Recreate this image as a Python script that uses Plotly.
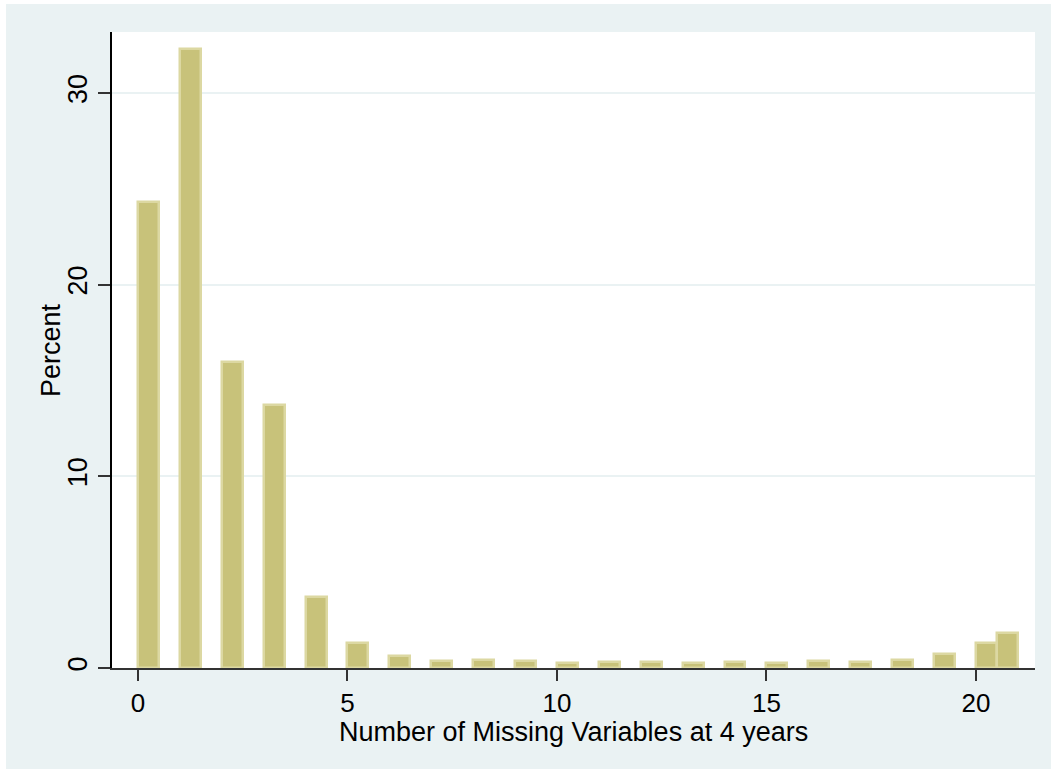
import math
import plotly.graph_objects as go

# Number of missing variables (integer values 0..21) and percent of children
missing_vars = list(range(22))
percent = [24.30, 32.30, 15.95, 13.70, 3.68, 1.28, 0.62, 0.37, 0.43, 0.39, 0.27,
           0.33, 0.30, 0.24, 0.30, 0.27, 0.36, 0.33, 0.40, 0.74, 1.28, 1.81]

x_ticks = [0, 5, 10, 15, 20]
y_ticks = [0, 10, 20, 30]

x_title = "Number of Missing Variables at 4 years"
y_title = "Percent"

# Histogram bins of width 0.5 spanning [0, 21]; the last bin is closed on the right
bin_width = 0.5
n_bins = int(round(21 / bin_width))
bin_start = [min(int(math.floor(v / bin_width)), n_bins - 1) * bin_width for v in missing_vars]

BG = "#EAF2F3"
FILL = "#C8C27A"
EDGE = "#DCD8A2"
FONT = "Liberation Sans, Arial, Helvetica, sans-serif"

fig = go.Figure(
    go.Bar(
        x=bin_start,
        y=percent,
        width=bin_width,
        offset=0,
        marker=dict(color=FILL, line=dict(color=EDGE, width=2.5)),
        hoverinfo="skip",
    )
)

fig.update_layout(
    width=1051,
    height=769,
    margin=dict(l=112, r=16, t=32, b=101),
    paper_bgcolor=BG,
    plot_bgcolor="white",
    showlegend=False,
    bargap=0,
    font=dict(family=FONT, color="black"),
    shapes=[
        # thin white strips along the left and top edges of the page
        dict(type="rect", xref="paper", yref="paper", x0=-0.2, x1=-0.1148, y0=-0.2, y1=1.1,
             fillcolor="white", line=dict(width=0), layer="below"),
        dict(type="rect", xref="paper", yref="paper", x0=-0.2, x1=1.1, y0=1.044, y1=1.1,
             fillcolor="white", line=dict(width=0), layer="below"),
    ],
    annotations=[
        dict(text=x_title, xref="paper", yref="paper", x=0.5, y=-0.1,
             xanchor="center", yanchor="middle", showarrow=False,
             font=dict(size=27, family=FONT, color="black")),
        dict(text=y_title, xref="paper", yref="paper", x=-0.0661, y=0.5,
             xanchor="center", yanchor="middle", textangle=-90, showarrow=False,
             font=dict(size=27, family=FONT, color="black")),
    ],
)

fig.update_xaxes(
    range=[-0.62, 21.41],
    tickvals=x_ticks,
    ticktext=[str(t) for t in x_ticks],
    ticks="outside",
    ticklen=11,
    tickwidth=1.5,
    tickcolor="#333333",
    tickfont=dict(size=26, family=FONT, color="black"),
    showline=True,
    linecolor="#333333",
    linewidth=1.5,
    showgrid=False,
    zeroline=False,
)

fig.update_yaxes(
    range=[0, 33.18],
    tickvals=y_ticks,
    ticktext=[str(t) for t in y_ticks],
    tickangle=-90,
    ticks="outside",
    ticklen=12,
    tickwidth=1.5,
    tickcolor="#333333",
    tickfont=dict(size=27, family=FONT, color="black"),
    showline=True,
    linecolor="black",
    linewidth=1.5,
    showgrid=True,
    gridcolor=BG,
    gridwidth=2,
    zeroline=False,
)

fig.write_html("out.html")
